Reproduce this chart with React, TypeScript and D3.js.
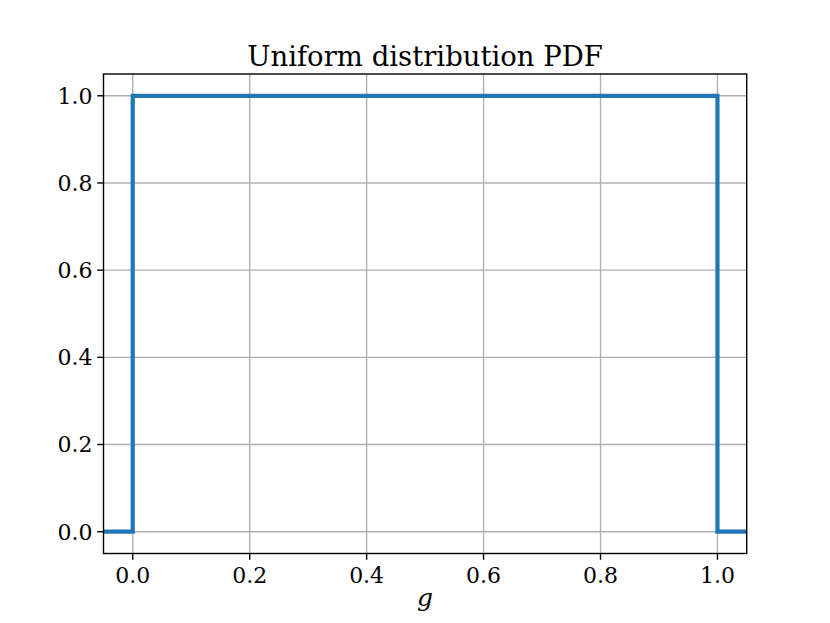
import React from 'react'
import * as d3 from 'd3'

const xs = [-0.05, 0, 0, 1, 1, 1.05]
const ys = [0, 0, 1, 1, 0, 0]
const xTicks = [0, 0.2, 0.4, 0.6, 0.8, 1.0]
const yTicks = [0, 0.2, 0.4, 0.6, 0.8, 1.0]

const width = 830
const height = 623
const left = 103.5
const right = 746.7
const top = 74
const bottom = 553.5
const font = 'DejaVu Serif'

const App = () => {
  const x = d3.scaleLinear().domain([-0.05, 1.05]).range([left, right])
  const y = d3.scaleLinear().domain([-0.05, 1.05]).range([bottom, top])
  const line = d3
    .line<number>()
    .x((d, i) => x(xs[i]))
    .y(d => y(d))
  const path = line(ys) || ''

  return (
    <svg width={width} height={height} style={{ position: 'absolute', left: 0, top: 0 }}>
      <rect width={width} height={height} fill="#fff" />
      <clipPath id="clip">
        <rect x={left} y={top} width={right - left} height={bottom - top} />
      </clipPath>
      {xTicks.map(t => (
        <line key={'gx' + t} x1={x(t)} x2={x(t)} y1={top} y2={bottom} stroke="#b0b0b0" strokeWidth={1.4} />
      ))}
      {yTicks.map(t => (
        <line key={'gy' + t} x1={left} x2={right} y1={y(t)} y2={y(t)} stroke="#b0b0b0" strokeWidth={1.4} />
      ))}
      <path d={path} fill="none" stroke="#1f77b4" strokeWidth={4.2} clipPath="url(#clip)" />
      <rect x={left} y={top} width={right - left} height={bottom - top} fill="none" stroke="#000" strokeWidth={1.4} />
      {xTicks.map(t => (
        <g key={'tx' + t}>
          <line x1={x(t)} x2={x(t)} y1={bottom} y2={bottom + 6.3} stroke="#000" strokeWidth={1.4} />
          <text x={x(t)} y={bottom + 29} textAnchor="middle" fontFamily={font} fontSize={22}>
            {d3.format('.1f')(t)}
          </text>
        </g>
      ))}
      {yTicks.map(t => (
        <g key={'ty' + t}>
          <line x1={left - 6.3} x2={left} y1={y(t)} y2={y(t)} stroke="#000" strokeWidth={1.4} />
          <text x={left - 11} y={y(t)} dy="0.36em" textAnchor="end" fontFamily={font} fontSize={22}>
            {d3.format('.1f')(t)}
          </text>
        </g>
      ))}
      <text x={(left + right) / 2} y={66} textAnchor="middle" fontFamily={font} fontSize={27.5}>
        Uniform distribution PDF
      </text>
      <text x={(left + right) / 2} y={606} textAnchor="middle" fontFamily={font} fontStyle="italic" fontSize={25}>
        g
      </text>
    </svg>
  )
}

export default App
